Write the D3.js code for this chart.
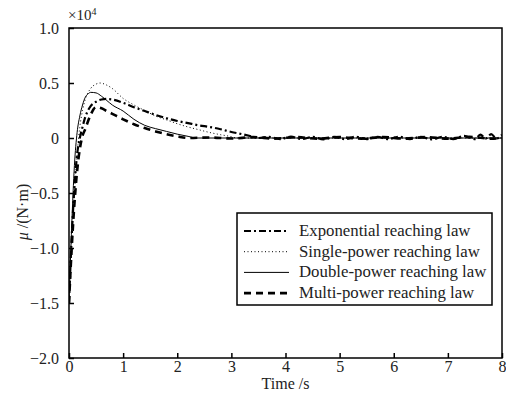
<!DOCTYPE html>
<html>
<head>
<meta charset="utf-8">
<script src="https://cdn.jsdelivr.net/npm/d3@7"></script>
<style>
  body { margin: 0; background: #fff; }
  svg { font-family: "Liberation Serif", "Times New Roman", serif; }
</style>
</head>
<body>
<div id="chart"></div>
<script>
// values in units of 10^4 N·m
const expT = [0, 0.05, 0.1, 0.15, 0.2, 0.25, 0.3, 0.35, 0.4, 0.5, 0.6, 0.7, 0.8, 1.0, 1.2, 1.4, 1.6, 1.8, 2.0, 2.2, 2.4, 2.6, 2.8, 3.0, 3.2, 3.4, 3.5, 3.7, 3.9, 4.1, 4.3, 4.5, 4.7, 4.9, 5.1, 5.3, 5.5, 5.7, 5.9, 6.1, 6.3, 6.5, 6.7, 6.9, 7.1, 7.3, 7.5, 7.6, 7.7, 7.8, 7.9, 8.0];
const expV = [-1.5, -0.9, -0.45, -0.15, 0.0, 0.1, 0.19, 0.25, 0.29, 0.33, 0.35, 0.355, 0.35, 0.32, 0.28, 0.245, 0.21, 0.18, 0.155, 0.135, 0.115, 0.1, 0.08, 0.055, 0.035, 0.012, 0.0, 0.01, -0.01, 0.012, -0.01, 0.01, -0.012, 0.01, -0.01, 0.012, -0.01, 0.01, -0.01, 0.012, -0.01, 0.01, -0.012, 0.01, -0.01, 0.02, -0.01, 0.03, -0.005, 0.035, -0.005, 0.03];

const singleT = [0, 0.05, 0.1, 0.15, 0.2, 0.25, 0.3, 0.4, 0.5, 0.57, 0.7, 0.8, 1.0, 1.2, 1.4, 1.6, 1.8, 2.0, 2.2, 2.4, 2.6, 2.8, 3.0, 3.1, 8.0];
const singleV = [-1.5, -0.95, -0.5, -0.15, 0.1, 0.25, 0.35, 0.45, 0.49, 0.5, 0.48, 0.45, 0.36, 0.3, 0.25, 0.2, 0.165, 0.13, 0.1, 0.075, 0.05, 0.03, 0.012, 0.0, 0.0];

const doubleT = [0, 0.05, 0.1, 0.15, 0.2, 0.25, 0.3, 0.35, 0.4, 0.5, 0.6, 0.7, 0.8, 1.0, 1.2, 1.4, 1.6, 1.8, 2.0, 2.2, 2.35, 8.0];
const doubleV = [-1.5, -0.8, -0.25, 0.05, 0.2, 0.3, 0.37, 0.4, 0.415, 0.41, 0.38, 0.34, 0.3, 0.245, 0.17, 0.115, 0.085, 0.06, 0.035, 0.015, 0.0, 0.0];

const multiT = [0, 0.05, 0.1, 0.15, 0.2, 0.25, 0.3, 0.35, 0.4, 0.45, 0.5, 0.6, 0.7, 0.8, 1.0, 1.2, 1.4, 1.6, 1.8, 2.0, 2.2, 2.6, 3.0, 3.4, 3.8, 4.2, 4.6, 5.0, 5.4, 5.8, 6.2, 6.6, 7.0, 7.4, 7.8, 8.0];
const multiV = [-1.5, -1.0, -0.6, -0.3, -0.1, 0.02, 0.08, 0.15, 0.21, 0.26, 0.28, 0.27, 0.245, 0.22, 0.17, 0.125, 0.09, 0.06, 0.035, 0.015, 0.0, 0.005, -0.005, 0.008, -0.006, 0.008, -0.006, 0.008, -0.006, 0.008, -0.006, 0.008, -0.006, 0.01, -0.006, 0.0];

const seriesNames = ['Exponential reaching law', 'Single-power reaching law', 'Double-power reaching law', 'Multi-power reaching law'];
const xTicks = [0, 1, 2, 3, 4, 5, 6, 7, 8];
const yTicks = [1.0, 0.5, 0, -0.5, -1.0, -1.5, -2.0];
const yTickLabels = ['1.0', '0.5', '0', '\u22120.5', '\u22121.0', '\u22121.5', '\u22122.0'];

const width = 506;
const height = 394;
const margin = {left: 69, right: 4, top: 28, bottom: 36};

const svg = d3.select('#chart').append('svg')
  .attr('width', width)
  .attr('height', height);

const xScale = d3.scaleLinear()
  .domain([0, 8])
  .range([margin.left, width - margin.right]);
const yScale = d3.scaleLinear()
  .domain([-2, 1])
  .range([height - margin.bottom, margin.top]);

const styles = [
  {w: 2.2, dash: '7,3,2,3'},
  {w: 1, dash: '1,2.5'},
  {w: 1, dash: null},
  {w: 2.6, dash: '7,5'}
];
const pairs = (t, v) => t.map((d, i) => [d, v[i]]);
const allSeries = [pairs(expT, expV), pairs(singleT, singleV), pairs(doubleT, doubleV), pairs(multiT, multiV)];

const line = d3.line()
  .curve(d3.curveMonotoneX)
  .x(d => xScale(d[0]))
  .y(d => yScale(d[1]));

svg.append('clipPath').attr('id', 'clip')
  .append('rect')
  .attr('x', xScale(0)).attr('y', yScale(1))
  .attr('width', xScale(8) - xScale(0))
  .attr('height', yScale(-2) - yScale(1));

allSeries.forEach((s, i) => {
  svg.append('path')
    .datum(s)
    .attr('clip-path', 'url(#clip)')
    .attr('fill', 'none')
    .attr('stroke', '#000')
    .attr('stroke-width', styles[i].w)
    .attr('stroke-dasharray', styles[i].dash)
    .attr('d', line);
});

// frame
svg.append('rect')
  .attr('x', xScale(0)).attr('y', yScale(1))
  .attr('width', xScale(8) - xScale(0))
  .attr('height', yScale(-2) - yScale(1))
  .attr('fill', 'none')
  .attr('stroke', '#000')
  .attr('stroke-width', 1.5);

const xAxis = d3.axisBottom(xScale)
  .tickValues(xTicks)
  .tickFormat(d3.format('d'))
  .tickSizeInner(-5)
  .tickSizeOuter(0)
  .tickPadding(5);
const yAxis = d3.axisLeft(yScale)
  .tickValues(yTicks)
  .tickFormat((d, i) => yTickLabels[i])
  .tickSizeInner(-5)
  .tickSizeOuter(0)
  .tickPadding(10);

const gx = svg.append('g')
  .attr('transform', `translate(0, ${yScale(-2)})`)
  .call(xAxis);
const gy = svg.append('g')
  .attr('transform', `translate(${xScale(0)}, 0)`)
  .call(yAxis);
[gx, gy].forEach(g => {
  g.select('.domain').remove();
  g.selectAll('line').attr('stroke-width', 1.5);
  g.selectAll('text')
    .style('font-family', '"Liberation Serif", serif')
    .style('font-size', '16px')
    .attr('fill', '#222');
});
gx.selectAll('text').attr('dy', '0.55em');

svg.append('text')
  .attr('x', 68).attr('y', 20)
  .style('font-size', '15px')
  .attr('fill', '#222')
  .html('\u00d710<tspan dy="-5" font-size="10px">4</tspan>');

svg.append('text')
  .attr('x', xScale(4)).attr('y', 389)
  .attr('text-anchor', 'middle')
  .style('font-size', '16px')
  .attr('fill', '#222')
  .text('Time /s');

svg.append('text')
  .attr('transform', 'translate(28, 212) rotate(-90)')
  .attr('text-anchor', 'middle')
  .style('font-size', '16px')
  .attr('fill', '#222')
  .html('<tspan font-style="italic">\u03bc</tspan> /(N\u00b7m)');

// legend
const legend = svg.append('g');
legend.append('rect')
  .attr('x', 237).attr('y', 213)
  .attr('width', 255).attr('height', 92)
  .attr('fill', '#fff')
  .attr('stroke', '#000')
  .attr('stroke-width', 1.5);
seriesNames.forEach((name, i) => {
  const y = 231 + i * 20.7;
  legend.append('line')
    .attr('x1', 244).attr('x2', 289)
    .attr('y1', y).attr('y2', y)
    .attr('stroke', '#000')
    .attr('stroke-width', styles[i].w)
    .attr('stroke-dasharray', styles[i].dash);
  legend.append('text')
    .attr('x', 299).attr('y', y + 5)
    .style('font-size', '16.8px')
    .attr('fill', '#222')
    .text(name);
});
</script>
</body>
</html>
